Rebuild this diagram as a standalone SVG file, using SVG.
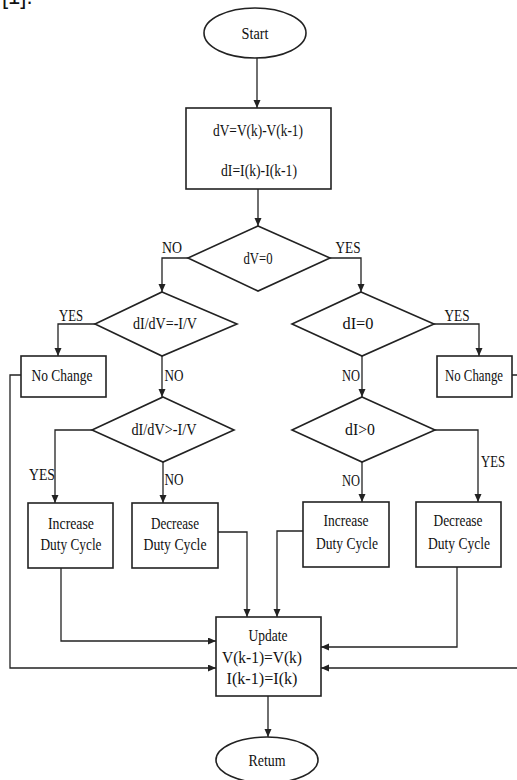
<svg xmlns="http://www.w3.org/2000/svg" width="517" height="780" viewBox="0 0 517 780">
<defs>
<marker id="ah" markerUnits="userSpaceOnUse" markerWidth="8" markerHeight="8" refX="8" refY="3.5" orient="auto">
<path d="M0,0 L8,3.5 L0,7 z" fill="#222"/>
</marker>
<style>
.s{fill:#fff;stroke:#222;stroke-width:1.6}
.c{fill:none;stroke:#222;stroke-width:1.3;marker-end:url(#ah)}
text{font-family:"Liberation Serif","Times New Roman",serif;font-size:16.5px;fill:#111;text-anchor:middle}
.frag{font-family:"Liberation Sans",Arial,sans-serif;font-size:22px;text-anchor:start}
</style>
</defs>
<rect width="517" height="780" fill="#fff"/>
<text class="frag" x="2" y="4">[1].</text>
<g id="connectors">
<path class="c" d="M257 58 V108"/>
<path class="c" d="M258 189 V226"/>
<path class="c" d="M188 258 H162 V292"/>
<path class="c" d="M330 258 H361 V292"/>
<path class="c" d="M95 324 H58 V356"/>
<path class="c" d="M162 356 V397"/>
<path class="c" d="M434 324 H479 V356"/>
<path class="c" d="M362 356 V397"/>
<path class="c" d="M92 430 H55 V503"/>
<path class="c" d="M163 462 V503"/>
<path class="c" d="M362 462 V502"/>
<path class="c" d="M435 430 H478 V502"/>
<path class="c" d="M21 375 H10 V668 H216"/>
<path class="c" d="M512 375 H518 V668 H321"/>
<path class="c" d="M61 568 V641 H216"/>
<path class="c" d="M218 532 H247 V617"/>
<path class="c" d="M303 531 H277 V617"/>
<path class="c" d="M457 567 V647 H321"/>
<path class="c" d="M268 696 V737"/>
<text x="172" y="253" textLength="20" lengthAdjust="spacingAndGlyphs">NO</text>
<text x="348" y="253" textLength="25" lengthAdjust="spacingAndGlyphs">YES</text>
<text x="71" y="321" textLength="24" lengthAdjust="spacingAndGlyphs">YES</text>
<text x="174" y="381" textLength="19" lengthAdjust="spacingAndGlyphs">NO</text>
<text x="457" y="321" textLength="25" lengthAdjust="spacingAndGlyphs">YES</text>
<text x="351" y="381" textLength="18" lengthAdjust="spacingAndGlyphs">NO</text>
<text x="42" y="480" textLength="26" lengthAdjust="spacingAndGlyphs">YES</text>
<text x="174" y="485" textLength="19" lengthAdjust="spacingAndGlyphs">NO</text>
<text x="351" y="486" textLength="18" lengthAdjust="spacingAndGlyphs">NO</text>
<text x="493" y="467" textLength="24" lengthAdjust="spacingAndGlyphs">YES</text>
</g>
<g id="start">
<ellipse class="s" cx="255" cy="33" rx="51" ry="25"/>
<text x="255" y="38.5" textLength="27" lengthAdjust="spacingAndGlyphs">Start</text>
</g>
<g id="compute">
<rect class="s" x="186" y="108" width="145" height="81"/>
<text x="258" y="135.5" textLength="90" lengthAdjust="spacingAndGlyphs">dV=V(k)-V(k-1)</text>
<text x="259" y="175.5" textLength="76" lengthAdjust="spacingAndGlyphs">dI=I(k)-I(k-1)</text>
</g>
<g id="d_dv0">
<polygon class="s" points="258,226 330,258 258,291 188,258"/>
<text x="258" y="264" textLength="29" lengthAdjust="spacingAndGlyphs">dV=0</text>
</g>
<g id="d_eq">
<polygon class="s" points="162,292 237,324 162,356 95,324"/>
<text x="165" y="329" textLength="64" lengthAdjust="spacingAndGlyphs">dI/dV=-I/V</text>
</g>
<g id="d_di0">
<polygon class="s" points="361,292 434,324 362,356 292,324"/>
<text x="358" y="329" textLength="31" lengthAdjust="spacingAndGlyphs">dI=0</text>
</g>
<g id="nochange_l">
<rect class="s" x="21" y="356" width="85" height="41"/>
<text x="62" y="381" textLength="61" lengthAdjust="spacingAndGlyphs">No Change</text>
</g>
<g id="nochange_r">
<rect class="s" x="437" y="356" width="75" height="41"/>
<text x="474" y="381" textLength="58" lengthAdjust="spacingAndGlyphs">No Change</text>
</g>
<g id="d_gt">
<polygon class="s" points="163,397 234,430 163,462 92,430"/>
<text x="164" y="435" textLength="65" lengthAdjust="spacingAndGlyphs">dI/dV&gt;-I/V</text>
</g>
<g id="d_digt0">
<polygon class="s" points="362,397 435,430 362,462 292,430"/>
<text x="360" y="435" textLength="30" lengthAdjust="spacingAndGlyphs">dI&gt;0</text>
</g>
<g id="inc_l">
<rect class="s" x="28" y="503" width="85" height="65"/>
<text x="71" y="528.5" textLength="46" lengthAdjust="spacingAndGlyphs">Increase</text>
<text x="71" y="549.5" textLength="61" lengthAdjust="spacingAndGlyphs">Duty Cycle</text>
</g>
<g id="dec_l">
<rect class="s" x="132" y="503" width="86" height="65"/>
<text x="175" y="528.5" textLength="48" lengthAdjust="spacingAndGlyphs">Decrease</text>
<text x="175" y="549.5" textLength="63" lengthAdjust="spacingAndGlyphs">Duty Cycle</text>
</g>
<g id="inc_r">
<rect class="s" x="303" y="502" width="86" height="65"/>
<text x="346" y="525.5" textLength="45" lengthAdjust="spacingAndGlyphs">Increase</text>
<text x="347" y="548.5" textLength="62" lengthAdjust="spacingAndGlyphs">Duty Cycle</text>
</g>
<g id="dec_r">
<rect class="s" x="416" y="502" width="85" height="65"/>
<text x="458" y="525.5" textLength="49" lengthAdjust="spacingAndGlyphs">Decrease</text>
<text x="459" y="548.5" textLength="62" lengthAdjust="spacingAndGlyphs">Duty Cycle</text>
</g>
<g id="update">
<rect class="s" x="216" y="617" width="105" height="79"/>
<text x="268" y="640.5" textLength="39" lengthAdjust="spacingAndGlyphs">Update</text>
<text x="262" y="662.5" textLength="80" lengthAdjust="spacingAndGlyphs">V(k-1)=V(k)</text>
<text x="262" y="683.5" textLength="71" lengthAdjust="spacingAndGlyphs">I(k-1)=I(k)</text>
</g>
<g id="return">
<ellipse class="s" cx="267" cy="760" rx="51" ry="23"/>
<text x="267" y="766" textLength="37" lengthAdjust="spacingAndGlyphs">Retum</text>
</g>
</svg>
